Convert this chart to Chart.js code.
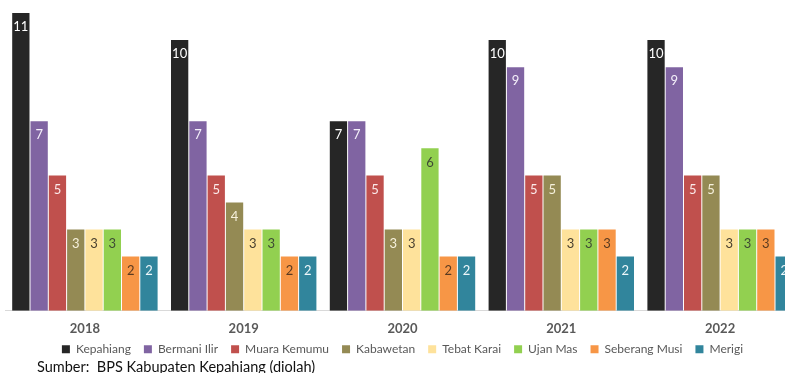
<!DOCTYPE html>
<html lang="id">
<head>
<meta charset="utf-8">
<title>Kecamatan di Kabupaten Kepahiang</title>
<script src="https://cdn.jsdelivr.net/npm/chart.js@4.4.1/dist/chart.umd.min.js"></script>
<style>
  html, body { margin: 0; padding: 0; background: #ffffff; }
  body { width: 785px; height: 373px; overflow: hidden; position: relative; }
  #wrap { position: absolute; left: 0; top: 0; width: 805px; height: 390px; }
  .sumber {
    position: absolute; left: 37px; top: 358px;
    font-family: Lato, "Open Sans", sans-serif; font-size: 14.5px; color: #111111;
    white-space: pre;
  }
</style>
</head>
<body>
<div id="wrap"><canvas id="kecChart" width="805" height="390"></canvas></div>
<div class="sumber">Sumber:  BPS Kabupaten Kepahiang (diolah)</div>

<script>
const years = ['2018', '2019', '2020', '2021', '2022'];

const kepahiang    = [11, 10, 7, 10, 10];
const bermaniIlir  = [7, 7, 7, 9, 9];
const muaraKemumu  = [5, 5, 5, 5, 5];
const kabawetan    = [3, 4, 3, 5, 5];
const tebatKarai   = [3, 3, 3, 3, 3];
const ujanMas      = [3, 3, 6, 3, 3];
const seberangMusi = [2, 2, 2, 3, 3];
const merigi       = [2, 2, 2, 2, 2];

// label, values, bar colour, colour of the number inside the bar
const series = [
  ['Kepahiang', kepahiang, '#262626', '#ffffff'],
  ['Bermani Ilir', bermaniIlir, '#8064a2', '#f4f0fa'],
  ['Muara Kemumu', muaraKemumu, '#c0504d', '#fbeaea'],
  ['Kabawetan', kabawetan, '#948a54', '#f6f1dc'],
  ['Tebat Karai', tebatKarai, '#fee29b', '#4a4130'],
  ['Ujan Mas', ujanMas, '#92d050', '#3f4a35'],
  ['Seberang Musi', seberangMusi, '#f79646', '#5a3a20'],
  ['Merigi', merigi, '#31859c', '#eef7fa']
];

const FONT = 'Lato, "Open Sans", sans-serif';

// numbers written just under the top of each bar
const barValues = {
  id: 'barValues',
  afterDatasetsDraw(chart) {
    const ctx = chart.ctx;
    ctx.save();
    ctx.font = '13px ' + FONT;
    ctx.textAlign = 'center';
    ctx.textBaseline = 'middle';
    chart.data.datasets.forEach((ds, i) => {
      const meta = chart.getDatasetMeta(i);
      meta.data.forEach((bar, j) => {
        ctx.fillStyle = ds.labelColor;
        ctx.fillText(ds.data[j], bar.x, bar.y + 14);
      });
    });
    ctx.restore();
  }
};

// pull the legend row up closer to the year labels
const legendLift = {
  id: 'legendLift',
  afterLayout(chart) {
    const lg = chart.legend;
    lg.top -= 10.5;
    lg.bottom -= 10.5;
  }
};

new Chart(document.getElementById('kecChart'), {
  type: 'bar',
  data: {
    labels: years,
    datasets: series.map(s => ({
      label: s[0],
      data: s[1],
      backgroundColor: s[2],
      labelColor: s[3],
      borderWidth: 0,
      categoryPercentage: 0.922,
      barPercentage: 0.945
    }))
  },
  options: {
    responsive: false,
    animation: false,
    devicePixelRatio: 1,
    layout: { padding: { left: 5.5, right: 5.5, top: 13, bottom: 14.3 } },
    scales: {
      x: {
        grid: { display: false, drawTicks: false },
        border: { display: true, color: '#d9d9d9', width: 1 },
        ticks: {
          color: '#595959',
          padding: 10,
          font: { family: FONT, size: 13, weight: 'bold' }
        },
        afterFit(scale) { scale.height = 30; }
      },
      y: {
        display: false,
        min: 0,
        max: 11
      }
    },
    plugins: {
      legend: {
        position: 'bottom',
        labels: {
          boxWidth: 8,
          boxHeight: 8,
          padding: 13,
          color: '#595959',
          font: { family: FONT, size: 12 }
        }
      },
      tooltip: { enabled: false }
    }
  },
  plugins: [barValues, legendLift]
});
</script>
</body>
</html>
